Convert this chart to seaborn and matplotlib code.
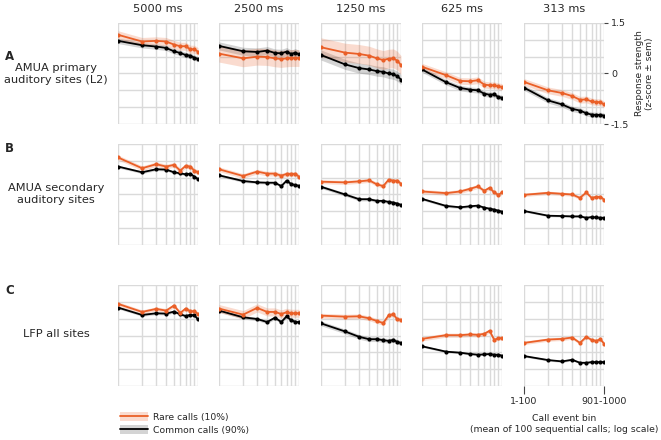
import numpy as np
import pandas as pd
import seaborn as sns
import matplotlib.pyplot as plt
from matplotlib.lines import Line2D
from matplotlib.patches import Patch

# bins 1..10 (each = mean of 100 sequential calls)
bins = list(range(1, 11))
durations = ['5000 ms', '2500 ms', '1250 ms', '625 ms', '313 ms']
row_letters = ['A', 'B', 'C']
row_names = ['AMUA primary\nauditory sites (L2)', 'AMUA secondary\nauditory sites', 'LFP all sites']

# row A: AMUA primary
rare_A = [
    [1.15, 0.95, 0.97, 0.95, 0.86, 0.81, 0.81, 0.72, 0.72, 0.65],
    [0.59, 0.45, 0.50, 0.49, 0.45, 0.43, 0.45, 0.46, 0.46, 0.46],
    [0.78, 0.62, 0.58, 0.53, 0.45, 0.40, 0.44, 0.45, 0.38, 0.25],
    [0.20, -0.05, -0.22, -0.23, -0.20, -0.33, -0.35, -0.35, -0.38, -0.40],
    [-0.25, -0.50, -0.58, -0.67, -0.78, -0.77, -0.83, -0.85, -0.85, -0.92],
]
common_A = [
    [0.97, 0.84, 0.80, 0.76, 0.66, 0.61, 0.55, 0.53, 0.47, 0.43],
    [0.82, 0.66, 0.64, 0.68, 0.61, 0.60, 0.65, 0.58, 0.62, 0.57],
    [0.55, 0.27, 0.16, 0.12, 0.07, 0.05, 0.00, -0.02, -0.08, -0.18],
    [0.12, -0.26, -0.43, -0.48, -0.50, -0.60, -0.63, -0.62, -0.70, -0.72],
    [-0.42, -0.80, -0.92, -1.05, -1.10, -1.18, -1.22, -1.23, -1.23, -1.25],
]
# row B: AMUA secondary
rare_B = [
    [1.10, 0.78, 0.90, 0.83, 0.88, 0.71, 0.85, 0.83, 0.71, 0.66],
    [0.75, 0.55, 0.68, 0.62, 0.62, 0.56, 0.61, 0.61, 0.61, 0.53],
    [0.38, 0.36, 0.39, 0.42, 0.30, 0.25, 0.44, 0.41, 0.41, 0.32],
    [0.09, 0.04, 0.09, 0.17, 0.24, 0.11, 0.20, 0.06, -0.01, 0.06],
    [-0.01, 0.05, 0.02, 0.00, -0.10, 0.06, -0.10, -0.07, -0.07, -0.15],
]
common_B = [
    [0.83, 0.66, 0.75, 0.74, 0.66, 0.63, 0.60, 0.62, 0.53, 0.46],
    [0.57, 0.40, 0.36, 0.35, 0.35, 0.25, 0.41, 0.31, 0.28, 0.26],
    [0.23, 0.00, -0.14, -0.14, -0.19, -0.19, -0.22, -0.24, -0.27, -0.31],
    [-0.13, -0.34, -0.38, -0.35, -0.33, -0.39, -0.42, -0.45, -0.48, -0.51],
    [-0.49, -0.63, -0.64, -0.65, -0.65, -0.69, -0.67, -0.68, -0.69, -0.69],
]
# row C: LFP
rare_C = [
    [0.94, 0.70, 0.79, 0.74, 0.89, 0.67, 0.80, 0.72, 0.72, 0.64],
    [0.80, 0.62, 0.82, 0.70, 0.70, 0.64, 0.69, 0.66, 0.66, 0.66],
    [0.59, 0.56, 0.57, 0.51, 0.43, 0.37, 0.60, 0.63, 0.48, 0.47],
    [-0.10, 0.01, 0.01, 0.03, 0.02, 0.05, 0.14, -0.13, -0.08, -0.08],
    [-0.22, -0.12, -0.10, -0.06, -0.22, -0.04, -0.13, -0.16, -0.11, -0.24],
]
common_C = [
    [0.83, 0.61, 0.66, 0.65, 0.71, 0.63, 0.58, 0.61, 0.60, 0.48],
    [0.74, 0.54, 0.49, 0.40, 0.53, 0.40, 0.57, 0.45, 0.41, 0.39],
    [0.36, 0.12, -0.04, -0.11, -0.11, -0.14, -0.16, -0.13, -0.19, -0.22],
    [-0.32, -0.48, -0.51, -0.55, -0.57, -0.56, -0.55, -0.57, -0.57, -0.60],
    [-0.61, -0.73, -0.77, -0.72, -0.81, -0.81, -0.79, -0.79, -0.79, -0.79],
]
# sem per panel (rare, common)
sem_rare = [[0.12, 0.25, 0.28, 0.10, 0.10],
            [0.07, 0.07, 0.06, 0.06, 0.05],
            [0.06, 0.12, 0.07, 0.06, 0.05]]
sem_common = [[0.08, 0.12, 0.15, 0.08, 0.08],
              [0.04, 0.04, 0.05, 0.04, 0.03],
              [0.04, 0.05, 0.07, 0.03, 0.03]]

rare_rows = [rare_A, rare_B, rare_C]
common_rows = [common_A, common_B, common_C]

records = []
for r in range(3):
    for c in range(5):
        for i, b in enumerate(bins):
            records.append(dict(row=r, col=c, bin=b, series='rare',
                                value=rare_rows[r][c][i], sem=sem_rare[r][c]))
            records.append(dict(row=r, col=c, bin=b, series='common',
                                value=common_rows[r][c][i], sem=sem_common[r][c]))
df = pd.DataFrame(records)

sns.set_style('white')
plt.rcParams['font.family'] = ['DejaVu Sans']

orange = '#ea5f27'
palette = {'rare': orange, 'common': 'black'}
W, H = 661, 440
fig = plt.figure(figsize=(W / 100, H / 100), dpi=100)

col_left = [118, 219, 321, 422, 524]
row_top = [23, 144, 285]
aw, ah = 80, 101

for r in range(3):
    for c in range(5):
        ax = fig.add_axes([col_left[c] / W, 1 - (row_top[r] + ah) / H, aw / W, ah / H])
        sub = df[(df.row == r) & (df.col == c)]
        for s, col, a in [('common', 'black', 0.17), ('rare', orange, 0.22)]:
            d = sub[sub.series == s]
            ax.fill_between(d['bin'], d['value'] - d['sem'], d['value'] + d['sem'],
                            color=col, alpha=a, lw=0)
        sns.lineplot(data=sub, x='bin', y='value', hue='series',
                     hue_order=['common', 'rare'], palette=palette,
                     marker='o', markersize=3, markeredgewidth=0, lw=1.3,
                     legend=False, ax=ax)
        ax.set_xscale('log')
        ax.set_xlim(1, 10)
        ax.set_ylim(-1.5, 1.5)
        ax.set_xticks([1, 10])
        ax.set_xticks(range(2, 10), minor=True)
        ax.set_yticks([-1.5, 0, 1.5])
        ax.set_yticks([-1, -0.5, 0.5, 1], minor=True)
        ax.grid(True, which='both', color='#dadada', lw=1)
        ax.set_axisbelow(True)
        for sp in ax.spines.values():
            sp.set_visible(False)
        ax.set_xlabel('')
        ax.set_ylabel('')
        ax.tick_params(which='both', length=0, labelbottom=False, labelleft=False)
        ax.xaxis.set_minor_formatter(plt.NullFormatter())
        if r == 0:
            ax.set_title(durations[c], fontsize=8.2, pad=8)
        if r == 0 and c == 4:
            ax.yaxis.tick_right()
            ax.yaxis.set_label_position('right')
            ax.set_yticklabels(['-1.5', '0', '1.5'])
            ax.tick_params(axis='y', which='major', length=3, width=0.8, right=True,
                           labelright=True, labelsize=6.8, pad=2, color='#444444')
            ax.set_ylabel('Response strength\n(z-score \u00b1 sem)', fontsize=6.6,
                          labelpad=4)
        if r == 2 and c == 4:
            ax.set_xticklabels(['1-100', '901-1000'])
            ax.tick_params(axis='x', which='major', length=6, width=0.8, bottom=True,
                           labelbottom=True, labelsize=6.8, pad=2, color='#444444')
            ax.set_xlabel('Call event bin\n(mean of 100 sequential calls; log scale)',
                          fontsize=6.7, labelpad=6)

label_y = [74, 194, 334]
letter_y = [57, 149, 290]
for r in range(3):
    fig.text(5 / W, 1 - letter_y[r] / H, row_letters[r], fontsize=8.5,
             fontweight='bold', va='center', ha='left')
    fig.text(56 / W, 1 - label_y[r] / H, row_names[r], fontsize=8.2,
             va='center', ha='center', multialignment='center')

handles = [(Patch(color=orange, alpha=0.22, lw=0), Line2D([], [], color=orange, lw=1.3)),
           (Patch(color='black', alpha=0.17, lw=0), Line2D([], [], color='black', lw=1.3))]
fig.legend(handles, ['Rare calls (10%)', 'Common calls (90%)'],
           loc='upper left', bbox_to_anchor=(112 / W, 1 - 404 / H),
           frameon=False, fontsize=6.7, handlelength=3.0, handleheight=1.1,
           handletextpad=0.5, labelspacing=0.35)

fig.savefig('out.png', dpi=100)
